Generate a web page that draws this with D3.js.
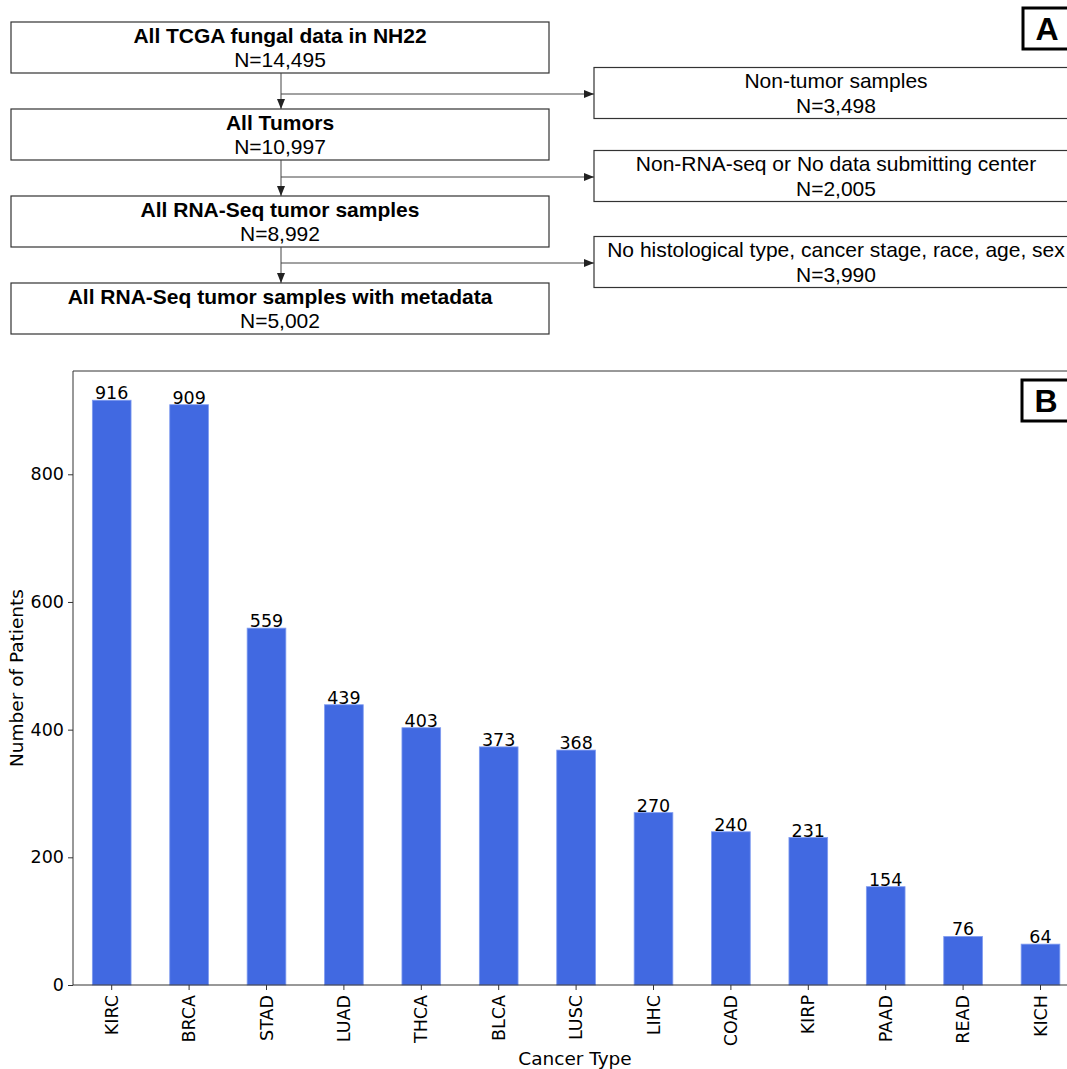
<!DOCTYPE html>
<html><head><meta charset="utf-8">
<script src="https://cdn.jsdelivr.net/npm/d3@7"></script>
<style>body{margin:0;background:#fff}svg{display:block}</style>
</head><body>
<script>
// ---- Data ----
const categories = ["KIRC","BRCA","STAD","LUAD","THCA","BLCA","LUSC","LIHC","COAD","KIRP","PAAD","READ","KICH"];
const patients = [916,909,559,439,403,373,368,270,240,231,154,76,64];
const yTicks = [0,200,400,600,800];
const mainSteps = ["All TCGA fungal data in NH22","All Tumors","All RNA-Seq tumor samples","All RNA-Seq tumor samples with metadata"];
const mainCounts = ["N=14,495","N=10,997","N=8,992","N=5,002"];
const excluded = ["Non-tumor samples","Non-RNA-seq or No data submitting center","No histological type, cancer stage, race, age, sex"];
const excludedCounts = ["N=3,498","N=2,005","N=3,990"];

const W = 1067, H = 1069;
const svg = d3.select("body").append("svg").attr("width", W).attr("height", H);
const defs = svg.append("defs");
defs.append("marker").attr("id","arr").attr("viewBox","0 0 10 10").attr("refX",10).attr("refY",5)
  .attr("markerWidth",10).attr("markerHeight",10).attr("markerUnits","userSpaceOnUse").attr("orient","auto")
  .append("path").attr("d","M0,1 L10,5 L0,9 Z").attr("fill","#222");

// ---- Panel A: flowchart ----
const flowFont = "'Liberation Sans', Arial, sans-serif";
const boxY = d3.scalePoint().domain(d3.range(mainSteps.length)).range([22, 283]);
const boxH = 51;
const bx0 = 11, bx1 = 549, rx0 = 594, rx1 = 1080;
const branchOffset = [21, 17, 16]; // layout: branch line below each main box
const A = svg.append("g");
mainSteps.forEach((t,i)=>{
  const y = boxY(i);
  A.append("rect").attr("x",bx0).attr("y",y).attr("width",bx1-bx0).attr("height",boxH)
    .attr("fill","#fff").attr("stroke","#333").attr("stroke-width",1.2);
  A.append("text").attr("x",(bx0+bx1)/2).attr("y",y+21).attr("text-anchor","middle")
    .attr("font-family",flowFont).attr("font-weight","bold").attr("font-size",21).text(t);
  A.append("text").attr("x",(bx0+bx1)/2).attr("y",y+45).attr("text-anchor","middle")
    .attr("font-family",flowFont).attr("font-size",21).text(mainCounts[i]);
});
excluded.forEach((t,i)=>{
  const yTopNext = boxY(i+1), yBot = boxY(i)+boxH;
  const yMid = yBot + branchOffset[i];
  A.append("line").attr("x1",281).attr("x2",281).attr("y1",yBot).attr("y2",yTopNext)
    .attr("stroke","#444").attr("stroke-width",1).attr("marker-end","url(#arr)");
  A.append("line").attr("x1",281).attr("x2",rx0).attr("y1",yMid).attr("y2",yMid)
    .attr("stroke","#444").attr("stroke-width",1).attr("marker-end","url(#arr)");
  const ry = yMid - 26.5;
  A.append("rect").attr("x",rx0).attr("y",ry).attr("width",rx1-rx0).attr("height",boxH)
    .attr("fill","#fff").attr("stroke","#333").attr("stroke-width",1.2);
  A.append("text").attr("x",836).attr("y",ry+20).attr("text-anchor","middle")
    .attr("font-family",flowFont).attr("font-size",21).text(t);
  A.append("text").attr("x",836).attr("y",ry+45).attr("text-anchor","middle")
    .attr("font-family",flowFont).attr("font-size",21).text(excludedCounts[i]);
});

function panelLabel(lbl, x, y){
  svg.append("rect").attr("x",x).attr("y",y).attr("width",60).attr("height",41)
    .attr("fill","#fff").attr("stroke","#000").attr("stroke-width",3);
  svg.append("text").attr("x",x+24).attr("y",y+32).attr("text-anchor","middle")
    .attr("font-family",flowFont).attr("font-weight","bold").attr("font-size",32).text(lbl);
}
panelLabel("A", 1023, 8);

// ---- Panel B: bar chart ----
const m = {left:73, top:371, bottom:985};
const step = 77.4;
const xr = m.left + step*categories.length;
const x = d3.scaleBand().domain(categories).range([m.left, xr]).paddingInner(0.5).paddingOuter(0.25);
const y = d3.scaleLinear().domain([0, d3.max(patients)*1.05]).range([m.bottom, m.top]);
const B = svg.append("g");
const mplFont = "'DejaVu Sans', sans-serif";

B.selectAll("rect.bar").data(categories).enter().append("rect")
  .attr("x",d=>x(d)).attr("width",x.bandwidth())
  .attr("y",(d,i)=>y(patients[i])).attr("height",(d,i)=>y(0)-y(patients[i]))
  .attr("fill","#4169E1").attr("stroke","#7f9bf0").attr("stroke-width",0.8);

B.selectAll("text.val").data(categories).enter().append("text")
  .attr("x",d=>x(d)+x.bandwidth()/2).attr("y",(d,i)=>y(patients[i])-1)
  .attr("text-anchor","middle").attr("font-family",mplFont).attr("font-size",17.5)
  .attr("fill","#000").text((d,i)=>patients[i]);

B.append("line").attr("x1",m.left).attr("x2",xr).attr("y1",m.top).attr("y2",m.top).attr("stroke","#333").attr("stroke-width",1);

const yAxis = B.append("g").attr("transform",`translate(${m.left},0)`)
  .call(d3.axisLeft(y).tickValues(yTicks).tickSize(5).tickPadding(4).tickFormat(d3.format("d")));
yAxis.select(".domain").attr("stroke","#333").attr("d",`M0,${m.bottom}V${m.top}`);
yAxis.selectAll(".tick line").attr("stroke","#333");
yAxis.selectAll(".tick text").attr("font-family",mplFont).attr("font-size",17.5).attr("fill","#000");

const xAxis = B.append("g").attr("transform",`translate(0,${m.bottom})`)
  .call(d3.axisBottom(x).tickSize(5).tickSizeOuter(0));
xAxis.select(".domain").attr("stroke","#333").attr("d",`M${m.left},0H${xr}`);
xAxis.selectAll(".tick line").attr("stroke","#333");
xAxis.selectAll(".tick text").attr("font-family",mplFont).attr("font-size",17.5).attr("fill","#000")
  .attr("transform","rotate(-90)").attr("text-anchor","end").attr("dx",-10).attr("dy","0.35em").attr("y",0).attr("x",0);

svg.append("text").attr("x",575).attr("y",1065).attr("text-anchor","middle")
  .attr("font-family",mplFont).attr("font-size",18.5).text("Cancer Type");
svg.append("text").attr("transform","translate(23,678) rotate(-90)").attr("text-anchor","middle")
  .attr("font-family",mplFont).attr("font-size",18.5).text("Number of Patients");

panelLabel("B", 1022, 380);
</script>
</body></html>
